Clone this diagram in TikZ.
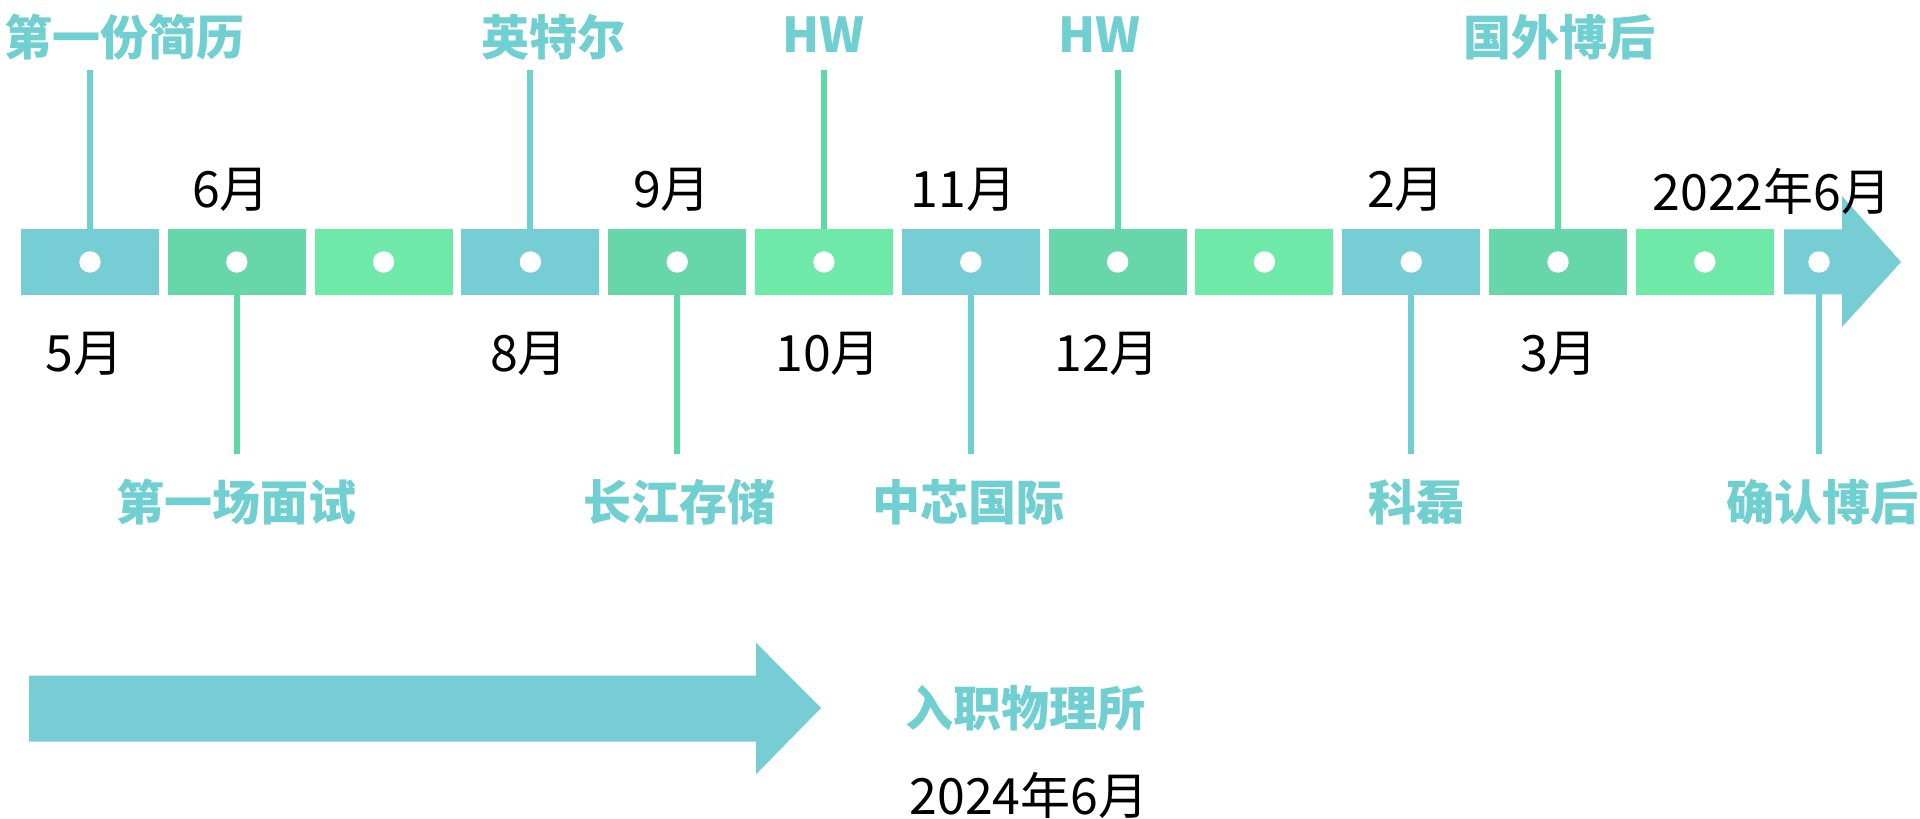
\documentclass[tikz,border=0pt]{standalone}
\usepackage{fontspec}
\newfontfamily\cjk{Noto Sans CJK SC}
\definecolor{tealbox}{RGB}{119,205,212}
\definecolor{greenbox}{RGB}{103,215,171}
\definecolor{limebox}{RGB}{110,233,168}
\definecolor{tealink}{RGB}{112,207,208}
\definecolor{greenink}{RGB}{92,217,165}
\begin{document}
\begin{tikzpicture}[line join=bevel,
  slot/.style={rectangle,inner sep=0pt,minimum width=138bp,minimum height=65.5bp,draw=none},
  hole/.style={circle,fill=white,inner sep=0pt,minimum size=21.4bp},
  tag/.style={text=tealink,inner sep=0pt,font=\cjk\bfseries\fontsize{48bp}{56bp}\selectfont},
  month/.style={text=black,inner sep=0pt,font=\cjk\fontsize{50bp}{58bp}\selectfont},
  stem/.style={line width=6bp}]
\path[use as bounding box,fill=white] (0bp,0bp) rectangle (1920bp,819bp);
%%
  \node (box_1) at (90.0bp,557.0bp) [slot,fill=tealbox] {};
  \node (box_2) at (236.8bp,557.0bp) [slot,fill=greenbox] {};
  \node (box_3) at (383.6bp,557.0bp) [slot,fill=limebox] {};
  \node (box_4) at (530.4bp,557.0bp) [slot,fill=tealbox] {};
  \node (box_5) at (677.2bp,557.0bp) [slot,fill=greenbox] {};
  \node (box_6) at (824.0bp,557.0bp) [slot,fill=limebox] {};
  \node (box_7) at (970.8bp,557.0bp) [slot,fill=tealbox] {};
  \node (box_8) at (1117.6bp,557.0bp) [slot,fill=greenbox] {};
  \node (box_9) at (1264.4bp,557.0bp) [slot,fill=limebox] {};
  \node (box_10) at (1411.2bp,557.0bp) [slot,fill=tealbox] {};
  \node (box_11) at (1558.0bp,557.0bp) [slot,fill=greenbox] {};
  \node (box_12) at (1704.8bp,557.0bp) [slot,fill=limebox] {};
  \fill [tealbox] (1784bp,524.5bp) -- (1842bp,524.5bp) -- (1842bp,492bp) -- (1901bp,557bp)
    -- (1842bp,623bp) -- (1842bp,589.5bp) -- (1784bp,589.5bp) -- cycle;
  \coordinate (box_13) at (1819.0bp,557.0bp);
  \coordinate (foot_13) at (1819.0bp,524.5bp);
%
  \node (dot_1) at (box_1) [hole] {};
  \node (dot_2) at (box_2) [hole] {};
  \node (dot_3) at (box_3) [hole] {};
  \node (dot_4) at (box_4) [hole] {};
  \node (dot_5) at (box_5) [hole] {};
  \node (dot_6) at (box_6) [hole] {};
  \node (dot_7) at (box_7) [hole] {};
  \node (dot_8) at (box_8) [hole] {};
  \node (dot_9) at (box_9) [hole] {};
  \node (dot_10) at (box_10) [hole] {};
  \node (dot_11) at (box_11) [hole] {};
  \node (dot_12) at (box_12) [hole] {};
  \node (dot_13) at (box_13) [hole] {};
%
  \coordinate (end_1) at (90.0bp,749bp);
  \coordinate (end_2) at (236.8bp,365bp);
  \coordinate (end_4) at (530.4bp,749bp);
  \coordinate (end_5) at (677.2bp,365bp);
  \coordinate (end_6) at (824.0bp,749bp);
  \coordinate (end_7) at (970.8bp,365bp);
  \coordinate (end_8) at (1117.6bp,749bp);
  \coordinate (end_10) at (1411.2bp,365bp);
  \coordinate (end_11) at (1558.0bp,749bp);
  \coordinate (end_13) at (1819.0bp,365bp);
  \draw [stem,tealink] (box_1.north) -- (end_1);
  \draw [stem,greenink] (box_2.south) -- (end_2);
  \draw [stem,tealink] (box_4.north) -- (end_4);
  \draw [stem,greenink] (box_5.south) -- (end_5);
  \draw [stem,greenink] (box_6.north) -- (end_6);
  \draw [stem,tealink] (box_7.south) -- (end_7);
  \draw [stem,greenink] (box_8.north) -- (end_8);
  \draw [stem,tealink] (box_10.south) -- (end_10);
  \draw [stem,greenink] (box_11.north) -- (end_11);
  \draw [stem,tealink] (foot_13) -- (end_13);
%
  \node (lab_1) at (124bp,782bp) [tag] {第一份简历};
  \node (lab_4) at (553bp,782bp) [tag] {英特尔};
  \node (lab_6) at (823.5bp,784bp) [tag] {HW};
  \node (lab_8) at (1099.6bp,784bp) [tag] {HW};
  \node (lab_11) at (1559bp,782bp) [tag] {国外博后};
  \node (lab_2) at (236bp,317bp) [tag] {第一场面试};
  \node (lab_5) at (679bp,317bp) [tag] {长江存储};
  \node (lab_7) at (968bp,317bp) [tag] {中芯国际};
  \node (lab_10) at (1416bp,317bp) [tag] {科磊};
  \node (lab_13) at (1822bp,317bp) [tag] {确认博后};
%
  \node (mon_1) at (84.5bp,465bp) [month] {5月};
  \node (mon_2) at (231bp,629bp) [month] {6月};
  \node (mon_4) at (529bp,465bp) [month] {8月};
  \node (mon_5) at (672bp,629bp) [month] {9月};
  \node (mon_6) at (828bp,465bp) [month] {10月};
  \node (mon_7) at (963.5bp,629bp) [month] {11月};
  \node (mon_8) at (1107bp,465bp) [month] {12月};
  \node (mon_10) at (1406bp,629bp) [month] {2月};
  \node (mon_11) at (1559bp,465bp) [month] {3月};
  \node (mon_13) at (1772bp,628bp) [month] {2022年6月};
%
  \fill [tealbox] (29bp,77.3bp) -- (756bp,77.3bp) -- (756bp,44.7bp) -- (821bp,111bp)
    -- (756bp,176.3bp) -- (756bp,143.3bp) -- (29bp,143.3bp) -- cycle;
  \node (lab_big) at (1025bp,111bp) [tag] {入职物理所};
  \node (mon_big) at (1029bp,24bp) [month] {2024年6月};
%
\end{tikzpicture}
\end{document}
